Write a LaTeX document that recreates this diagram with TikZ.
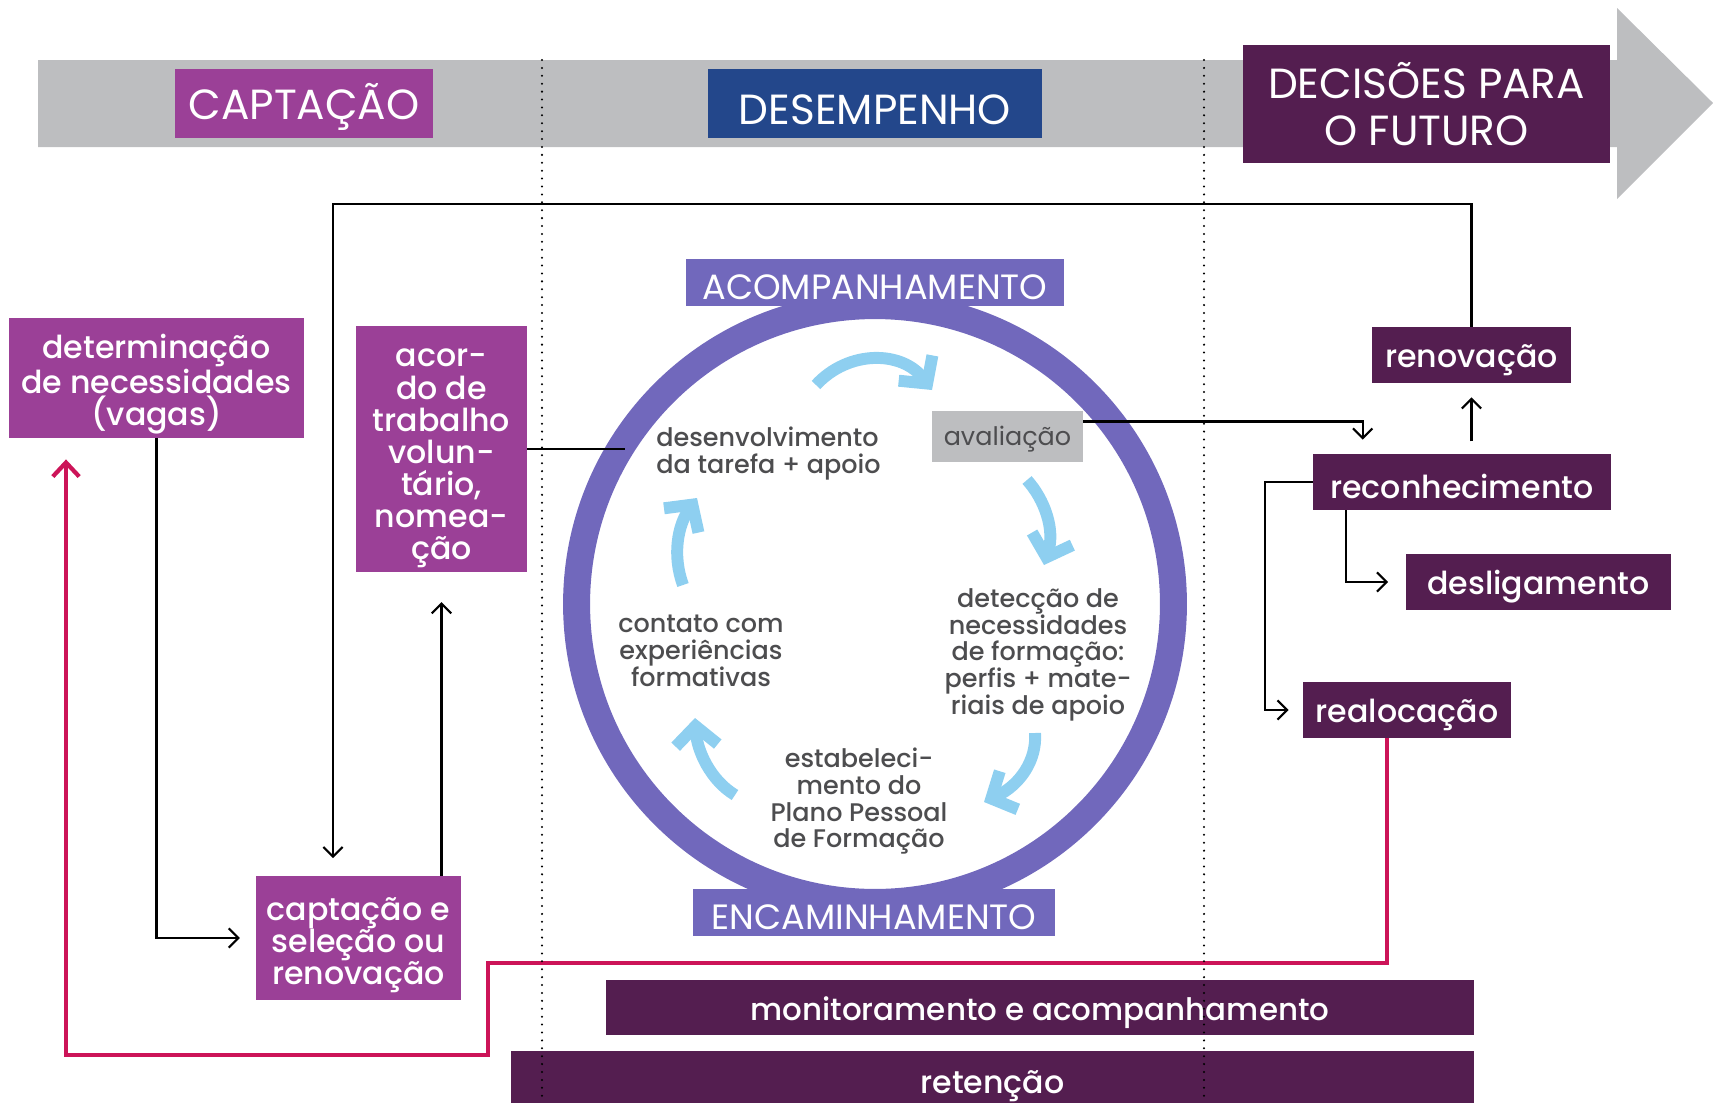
\documentclass[tikz,border=0pt]{standalone}
\usepackage{fontspec}
\setmainfont{Poppins}
\newfontfamily\medfont{Poppins Medium}
\usepackage{tikz}
\usetikzlibrary{arrows.meta}
\definecolor{purp}{HTML}{9B4097}
\definecolor{plum}{HTML}{541E50}
\definecolor{navy}{HTML}{23478B}
\definecolor{lila}{HTML}{7168BC}
\definecolor{band}{HTML}{BDBEC0}
\definecolor{sky}{HTML}{8ECFF0}
\definecolor{crim}{HTML}{CC1458}
\definecolor{ink}{HTML}{4D4D4F}
\newcommand\headfont{\fontsize{24}{27}\selectfont}
\newcommand\ringfont{\fontsize{20}{22}\selectfont}
\newcommand\boxfont{\medfont\fontsize{18}{18.3}\selectfont}
\newcommand\cycfont{\medfont\fontsize{14.5}{15.2}\selectfont}
\newcommand\avalfont{\fontsize{14.5}{15.2}\selectfont}
% struts for the first line of stacked labels
\newcommand\boxstrut{\rule{0pt}{21pt}}
\newcommand\cycstrut{\rule{0pt}{14.5pt}}
\tikzset{
  every picture/.style={line join=miter, >=Stealth},
  headbox/.style={text=white, inner sep=0pt, align=center, minimum height=1.38cm, font=\headfont,
    execute at begin node={\rule{0pt}{24.5pt}}},
  pbox/.style={fill=purp, text=white, inner sep=0pt, align=center, font=\boxfont},
  dbox/.style={fill=plum, text=white, inner sep=0pt, align=center, minimum height=1.12cm, font=\boxfont,
    execute at begin node={\rule{0pt}{19.5pt}}},
  ringbox/.style={fill=lila, text=white, inner sep=0pt, minimum height=0.94cm, font=\ringfont,
    execute at begin node={\rule{0pt}{20pt}}},
  cyctext/.style={text=ink, inner sep=0pt, align=center, font=\cycfont},
  conn/.style={line width=1.2pt, -{Straight Barb[length=5.5pt,width=11pt]}},
  redarrow/.style={crim, line width=2.4pt, -{Straight Barb[length=8pt,width=15pt]}},
  cyc/.style={sky, line width=6.8pt, -{Straight Barb[length=11pt,width=24pt]}},
  dots/.style={line width=1.3pt, line cap=round, dash pattern=on 0pt off 4.5pt},
}

\begin{document}
\begin{tikzpicture}[x=0.02cm,y=-0.02cm]
\useasboundingbox (0,0) rectangle (1713,1102);
% faixa das fases
\fill[band] (38,60) -- (1617,60) -- (1617,8) -- (1713,103) -- (1617,199) -- (1617,147) -- (38,147) -- cycle;
\node[headbox,fill=purp,minimum width=5.16cm] (capt) at (304,103.5) {CAPTAÇÃO};
\node[headbox,fill=navy,minimum width=6.68cm] (desemp) at (875,103.5) {DESEMPENHO};
\node[headbox,fill=plum,minimum width=7.34cm,minimum height=2.36cm] (decis) at (1426.5,104) {\rule{0pt}{20pt}DECISÕES PARA\\O FUTURO};

% captação
\node[pbox,minimum width=5.9cm,minimum height=2.4cm] (determ) at (156.5,378) {\boxstrut determinação\\de necessidades\\(vagas)};
\node[pbox,minimum width=3.42cm,minimum height=4.92cm] (acordo) at (441.5,449) {\boxstrut acor-\\do de\\trabalho\\volun-\\tário,\\nomea-\\ção};
\node[pbox,minimum width=4.1cm,minimum height=2.48cm] (captsel) at (358.5,938) {\boxstrut captação e\\seleção ou\\renovação};

% decisões
\node[dbox,minimum width=3.98cm] (renov) at (1471.5,355) {renovação};
\node[dbox,minimum width=5.96cm] (reconh) at (1462,482) {reconhecimento};
\node[dbox,minimum width=5.3cm] (deslig) at (1538.5,582) {desligamento};
\node[dbox,minimum width=4.16cm] (realoc) at (1407,710) {realocação};
\node[dbox,minimum width=17.36cm,minimum height=1.1cm,font=\medfont\fontsize{17.6}{18}\selectfont] (monit) at (1040,1007.5) {monitoramento e acompanhamento};
\node[dbox,minimum width=19.26cm,minimum height=1.18cm] (reten) at (992.5,1080.5) {retenção};

% ciclo
\draw[lila,line width=0.54cm] (875,604) circle[radius=5.97cm];
\coordinate (ringW) at (625,449);
\draw[line width=1.2pt] (acordo.east) -- (ringW);
\node[ringbox,minimum width=7.56cm] (acomp) at (875,282.5) {ACOMPANHAMENTO};
\node[ringbox,minimum width=7.24cm] (encam) at (874,912.5) {ENCAMINHAMENTO};
\node[fill=band,minimum width=3.02cm,minimum height=1.02cm,inner sep=0pt,text=ink,font=\avalfont] (aval) at (1007.5,436.5) {\rule{0pt}{14.5pt}avaliação};
\node[cyctext,anchor=west,align=left] (desenv) at (656,450.5) {\cycstrut desenvolvimento\\da tarefa + apoio};
\node[cyctext] (contato) at (701,651) {contato com\\experiências\\formativas};
\node[cyctext] (deteccao) at (1038,651.5) {\cycstrut detecção de\\necessidades\\de formação:\\perfis + mate-\\riais de apoio};
\node[cyctext] (estab) at (859,798.5) {\cycstrut estabeleci-\\mento do\\Plano Pessoal\\de Formação};
\draw[cyc] (816,385) .. controls (848,350) and (902,350) .. (932,390);
\draw[cyc] (1027,480) .. controls (1045,500) and (1055,530) .. (1044,565);
\draw[cyc] (1035,733) .. controls (1037,760) and (1020,785) .. (984,802);
\draw[cyc] (735,795) .. controls (710,780) and (697,750) .. (695,718);
\draw[cyc] (683,585) .. controls (672,555) and (678,525) .. (697,498);

% ligações
\coordinate (topL) at (333,204);
\draw[conn,shorten >=10pt] (renov.north) |- (topL) -- (topL |- captsel.north);
\draw[conn,shorten >=17pt] (acordo.south |- captsel.north) -- (acordo.south);
\draw[conn,shorten >=9pt] (determ.south) |- (captsel.west);
\draw[conn,shorten >=8pt] ([yshift=0.3cm]aval.east) -| ([xshift=1cm]reconh.north west);
\draw[conn,shorten <=7pt,shorten >=8pt] (reconh.north -| renov.south) -- (renov.south);
\draw[conn,shorten >=10pt] ([xshift=0.66cm]reconh.south west) |- (deslig.west);
\draw[conn,shorten >=8pt] (reconh.west) -- ++(-48,0) |- (realoc.west);
\coordinate (r1) at (488,963);
\coordinate (r2) at (66,1055);
\draw[redarrow,shorten >=12pt] ([xshift=-0.4cm]realoc.south) |- (r1) |- (r2) -- (r2 |- determ.south);

% divisórias
\draw[dots] (542,60) -- (542,1102);
\draw[dots] (1204,60) -- (1204,1102);
\end{tikzpicture}
\end{document}
